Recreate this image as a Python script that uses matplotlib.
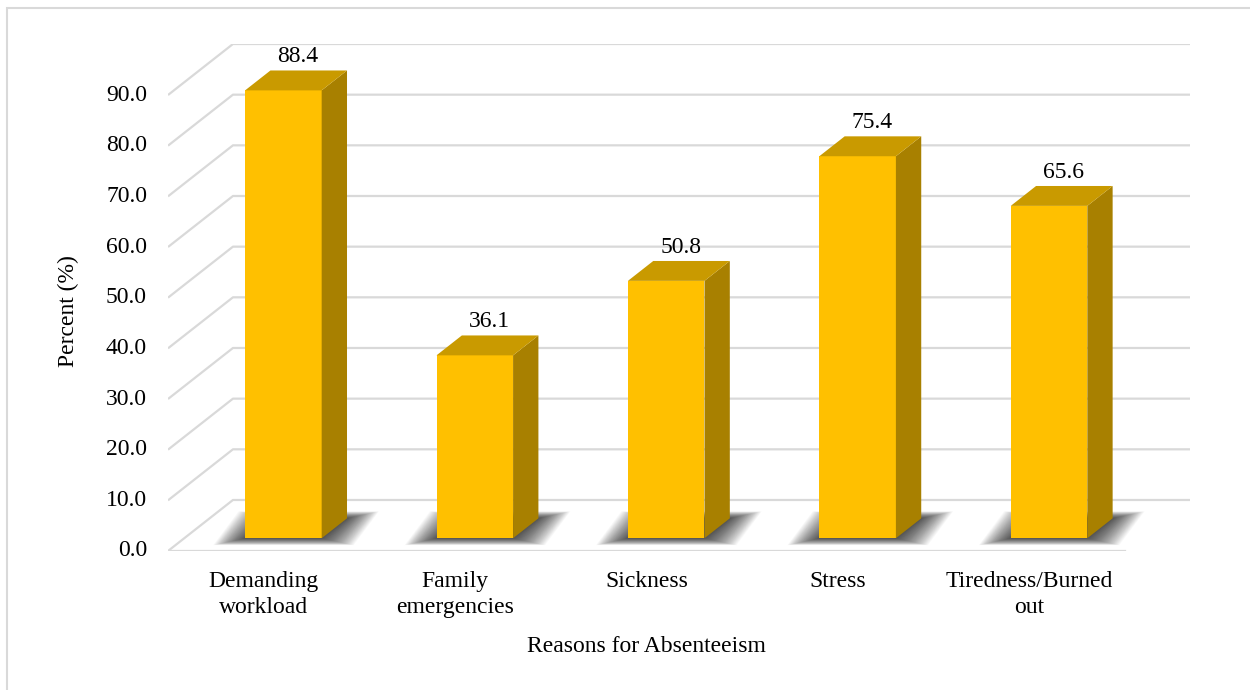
import matplotlib
matplotlib.use("Agg")
import matplotlib.pyplot as plt
from matplotlib.patches import Polygon, Rectangle

plt.rcParams['font.family'] = ['Liberation Serif', 'DejaVu Serif']

# Chart data
categories = ["Demanding\nworkload", "Family\nemergencies", "Sickness", "Stress",
              "Tiredness/Burned\nout"]
values = [88.4, 36.1, 50.8, 75.4, 65.6]
yticks = [0, 10, 20, 30, 40, 50, 60, 70, 80, 90]

# 3D look settings (depth offset in data units)
DX = 0.3394      # full depth, horizontal (category units)
DY = 10.07       # full depth, vertical (value units)
F0, F1 = 0.25, 0.64   # bar front/back depth fraction
BAR_W = 0.40
SHIFT = 0.018
FRONT = '#FFC000'
TOP = '#C99A00'
SIDE = '#A88000'
GRID = '#D9D9D9'

W, H = 1250, 690
fig = plt.figure(figsize=(W / 100, H / 100), dpi=100)
ax = fig.add_axes([168 / W, (H - 551) / H, (1190 - 168) / W, (551 - 44) / H])
ax.set_xlim(-0.5, 4.5 + DX)
ax.set_ylim(0, 90 + DY)
ax.axis('off')

# pixel -> data unit helpers
px_x = (4.5 + DX + 0.5) / (1190 - 168)
px_y = (90 + DY) / (551 - 44)

# border of the chart area
fig.patches.append(Rectangle((7 / W, -0.1), 1.2, (H - 8) / H + 0.1,
                             transform=fig.transFigure, fill=False,
                             edgecolor=GRID, linewidth=1.5))

# gridlines: left wall diagonal + back wall horizontal
n = len(values)
for v in yticks:
    ax.plot([-0.5, -0.5 + DX, n - 0.5 + DX], [v, v + DY, v + DY],
            color=GRID, linewidth=1.6, zorder=1, solid_capstyle='butt')
    ax.text(-0.5 - 21 * px_x, v, f"{v:.1f}", ha='right', va='center',
            fontsize=17, clip_on=False)
# floor front edge
ax.plot([-0.5, n - 0.5], [0, 0], color=GRID, linewidth=1.6, zorder=1)

for i, v in enumerate(values):
    x0 = i + SHIFT - BAR_W / 2 + F0 * DX
    x1 = x0 + BAR_W
    y0 = F0 * DY
    ddx = (F1 - F0) * DX
    ddy = (F1 - F0) * DY

    # soft shadow on the floor (stacked translucent layers)
    layers = 40
    for k in range(layers):
        t = 1 - k / layers
        mx = 32 * t * px_x
        my = 7 * t * px_y
        shadow = [(x0 - mx, y0 - my), (x1 + mx, y0 - my),
                  (x1 + ddx + mx, y0 + ddy + my), (x0 + ddx - mx, y0 + ddy + my)]
        ax.add_patch(Polygon(shadow, closed=True, facecolor='black',
                             edgecolor='none', alpha=0.025, zorder=2))

    # front face
    ax.add_patch(Polygon([(x0, y0), (x1, y0), (x1, y0 + v), (x0, y0 + v)],
                         closed=True, facecolor=FRONT, edgecolor='none', zorder=4))
    # side face
    ax.add_patch(Polygon([(x1, y0), (x1 + ddx, y0 + ddy),
                          (x1 + ddx, y0 + ddy + v), (x1, y0 + v)],
                         closed=True, facecolor=SIDE, edgecolor='none', zorder=4))
    # top face
    ax.add_patch(Polygon([(x0, y0 + v), (x1, y0 + v),
                          (x1 + ddx, y0 + ddy + v), (x0 + ddx, y0 + ddy + v)],
                         closed=True, facecolor=TOP, edgecolor='none', zorder=4))

    # value label
    ax.text((x0 + x1) / 2 + ddx / 2 + 2 * px_x, y0 + ddy + v + 8 * px_y,
            f"{v:.1f}", ha='center', va='baseline', fontsize=17,
            zorder=5, clip_on=False)

    # category label
    ax.text(i, -20 * px_y, categories[i], ha='center', va='top', fontsize=17,
            linespacing=1.3, clip_on=False)

ax.text(2, -95 * px_y, "Reasons for Absenteeism", ha='center', va='center',
        fontsize=17, clip_on=False)
fig.text(68 / W, 1 - 311 / H, "Percent (%)", rotation=90, ha='center',
         va='center', fontsize=17)

fig.savefig("out.png", dpi=100, facecolor='white')
